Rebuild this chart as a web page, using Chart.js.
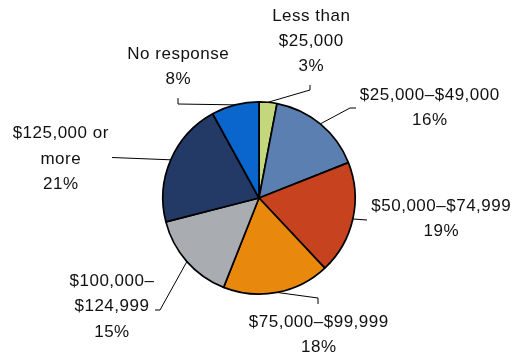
<!DOCTYPE html>
<html>
<head>
<meta charset="utf-8">
<script src="https://cdn.jsdelivr.net/npm/chart.js@4/dist/chart.umd.min.js"></script>
<style>
  html, body { margin: 0; padding: 0; background: #fff; }
  #wrap { width: 514px; height: 356px; }
</style>
</head>
<body>
<div id="wrap"><canvas id="revenuPie"></canvas></div>
<script>
// household income groups, clockwise from 12 o'clock
const categories = [
  ["Less than", "$25,000"],
  ["$25,000–$49,000"],
  ["$50,000–$74,999"],
  ["$75,000–$99,999"],
  ["$100,000–", "$124,999"],
  ["$125,000 or", "more"],
  ["No response"]
];
const percents = [3, 16, 19, 18, 15, 21, 8];
const couleurs = ["#c4d77b", "#5b7fb1", "#c7421f", "#e8890d", "#a9adb1", "#233a67", "#0a66cc"];

// where each label sits (center x, first baseline) and the bends of its leader line
const placement = [
  { x: 311, y: 20.7, leader: [[310, 90], [310, 85]] },
  { x: 429.5, y: 99.5, leader: [[350, 108], [356, 108]] },
  { x: 441, y: 210.5, leader: [[367, 220]] },
  { x: 318.5, y: 327, leader: [[318, 298], [318, 304]] },
  { x: 111.7, y: 286, leader: [[160, 310], [155, 310]] },
  { x: 60.5, y: 138.3, leader: [[112, 157.5]] },
  { x: 178, y: 58.5, leader: [[178, 104], [178, 98]] }
];
const interligne = 25.3;

const etiquettes = {
  id: "etiquettes",
  afterDatasetsDraw(chart) {
    const ctx = chart.ctx;
    const arcs = chart.getDatasetMeta(0).data;
    ctx.save();
    arcs.forEach((arc, i) => {
      const p = arc.getProps(["x", "y", "startAngle", "endAngle", "outerRadius"], true);
      const a = (p.startAngle + p.endAngle) / 2;
      const pos = placement[i];
      ctx.beginPath();
      ctx.moveTo(p.x + p.outerRadius * Math.cos(a), p.y + p.outerRadius * Math.sin(a));
      pos.leader.forEach(pt => ctx.lineTo(pt[0], pt[1]));
      ctx.strokeStyle = "#000";
      ctx.lineWidth = 1;
      ctx.stroke();

      const lignes = categories[i].concat([percents[i] + "%"]);
      ctx.font = "17px 'Liberation Sans', Arial, sans-serif";
      ctx.letterSpacing = "0.5px";
      ctx.fillStyle = "#111";
      ctx.textAlign = "center";
      ctx.textBaseline = "alphabetic";
      lignes.forEach((t, k) => ctx.fillText(t, pos.x + 0.25, pos.y + k * interligne));
    });
    ctx.restore();
  }
};

new Chart(document.getElementById("revenuPie"), {
  type: "pie",
  data: {
    labels: categories.map(c => c.join(" ")),
    datasets: [{
      data: percents,
      backgroundColor: couleurs,
      borderColor: "#000",
      borderWidth: 1.7,
      hoverOffset: 0
    }]
  },
  options: {
    responsive: true,
    maintainAspectRatio: false,
    animation: false,
    layout: { padding: { top: 101, bottom: 61, left: 4, right: 0 } },
    plugins: {
      legend: { display: false },
      tooltip: { enabled: false }
    }
  },
  plugins: [etiquettes]
});
</script>
</body>
</html>
